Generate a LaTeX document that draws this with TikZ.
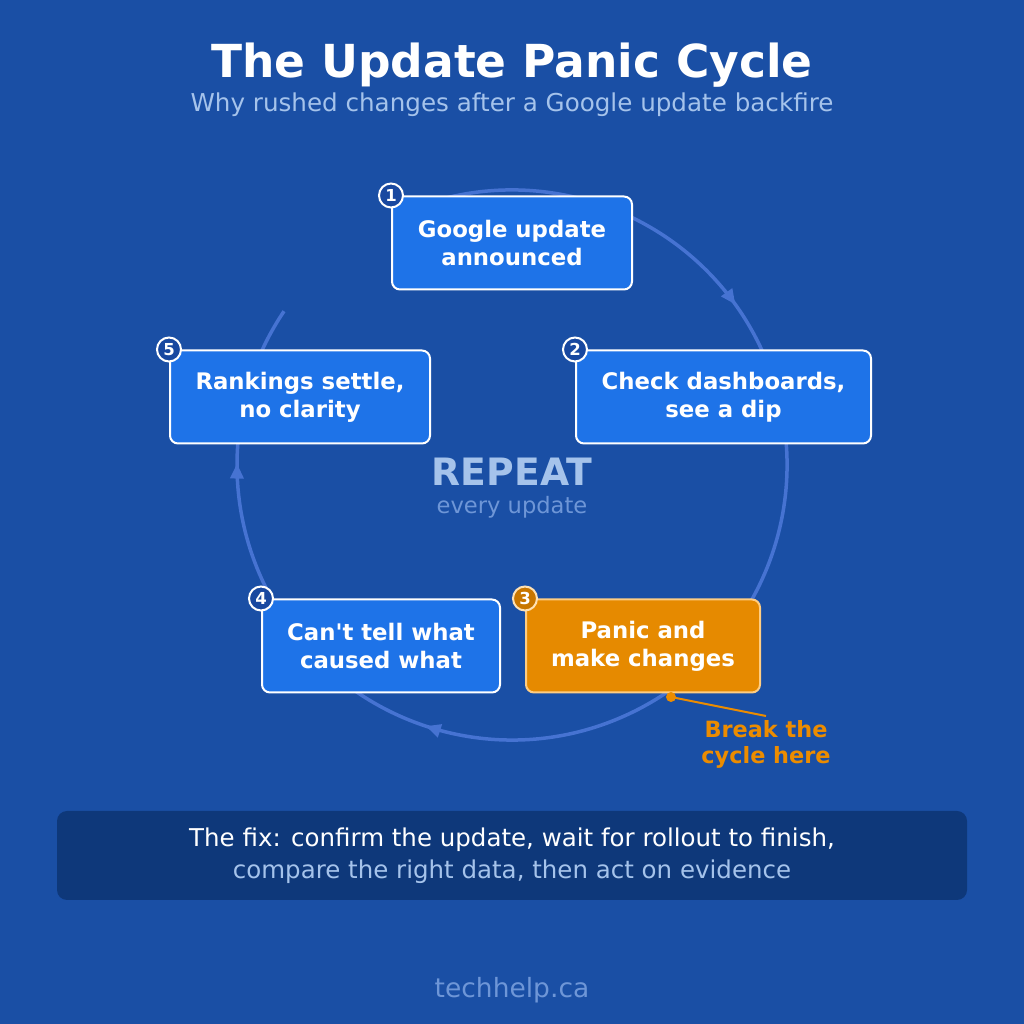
\documentclass[tikz,border=0pt]{standalone}
\usepackage{fontspec}
\setmainfont{DejaVu Sans}[Ligatures=TeXOff]
\usetikzlibrary{arrows.meta,decorations.markings}
\definecolor{bg}{RGB}{26,79,165}
\definecolor{boxblue}{RGB}{30,115,232}
\definecolor{numblue}{RGB}{24,72,160}
\definecolor{orangefill}{RGB}{230,138,0}
\definecolor{orangeedge}{RGB}{255,205,130}
\definecolor{orangenum}{RGB}{200,118,0}
\definecolor{orangetext}{RGB}{236,140,0}
\definecolor{paleblue}{RGB}{165,195,235}
\definecolor{midblue}{RGB}{110,150,215}
\definecolor{fixfill}{RGB}{14,56,122}
\definecolor{cyccol}{RGB}{70,115,210}
\tikzset{cyctip/.tip={Triangle[length=15pt,width=13pt]}}
\begin{document}
\begin{tikzpicture}[x=1pt,y=1pt,
  stepbox/.style={draw=white, line width=2pt, fill=boxblue, rounded corners=8pt,
    minimum height=93pt, text=white, align=center, inner sep=0pt,
    font=\fontsize{22.8}{28}\selectfont\bfseries},
  hotbox/.style={stepbox, fill=orangefill, draw=orangeedge},
  numdot/.style={circle, minimum size=24pt, inner sep=0pt, fill=numblue, draw=white,
    line width=2pt, text=white, font=\fontsize{16.5}{16.5}\selectfont\bfseries},
  hotdot/.style={numdot, fill=orangenum, draw=orangeedge!60!white},
  cyc/.style={draw=cyccol, line width=3.5pt}
]
\useasboundingbox[fill=bg] (0,0) rectangle (1024,1024);

% titles
\node[anchor=base, text=white, font=\fontsize{45.5}{54}\selectfont\bfseries] (title) at (512,946) {The Update Panic Cycle};
\node[anchor=base, text=paleblue, font=\fontsize{24.6}{28}\selectfont] (subtitle) at (512,912) {Why rushed changes after a Google update backfire};

% cycle
\coordinate (cc) at (512,559);
\draw[cyc, postaction={decorate}, decoration={markings,
   mark=at position 0.0192 with {\arrow[cyccol]{cyctip}},
   mark=at position 0.2387 with {\arrow[cyccol]{cyctip}},
   mark=at position 0.4582 with {\arrow[cyccol]{cyctip}},
   mark=at position 0.6777 with {\arrow[cyccol]{cyctip}},
   mark=at position 0.8973 with {\arrow[cyccol]{cyctip}}}]
  ([shift={(114:275)}]cc) arc[start angle=114, end angle=-214, radius=275];

% center label
\node[anchor=base, text=paleblue, font=\fontsize{37.7}{40}\selectfont\bfseries] (repeat) at (512,538) {REPEAT};
\node[anchor=base, text=midblue, font=\fontsize{22.6}{26}\selectfont] (every) at (512,510) {every update};

% steps
\node[stepbox, minimum width=240pt] (s1) at (512,781) {Google update\\announced};
\node[stepbox, minimum width=295pt] (s2) at (723.5,627) {Check dashboards,\\see a dip};
\node[hotbox,  minimum width=234pt] (s3) at (643,378) {Panic and\\make changes};
\node[stepbox, minimum width=238pt] (s4) at (381,378) {Can't tell what\\caused what};
\node[stepbox, minimum width=260pt] (s5) at (300,627) {Rankings settle,\\no clarity};

\node[numdot] (n1) at (s1.north west) {1};
\node[numdot] (n2) at (s2.north west) {2};
\node[hotdot] (n3) at (s3.north west) {3};
\node[numdot] (n4) at (s4.north west) {4};
\node[numdot] (n5) at (s5.north west) {5};

% break callout
\node[circle, fill=orangetext, minimum size=10pt, inner sep=0pt] (dot) at (671,327) {};
\coordinate (brkend) at (766,308);
\draw[orangetext, line width=2pt] (dot.center) -- (brkend);
\node[anchor=base, text=orangetext, font=\fontsize{22.4}{26}\selectfont\bfseries] (brk1) at (766,286) {Break the};
\node[anchor=base, text=orangetext, font=\fontsize{22.4}{26}\selectfont\bfseries] (brk2) at (766,260) {cycle here};

% fix box
\node[fill=fixfill, rounded corners=10pt, minimum width=910pt, minimum height=89pt, inner sep=0pt] (fix) at (512,168.5) {};
\node[anchor=base, text=white, font=\fontsize{24.5}{28}\selectfont] (fix1) at (512,177) {The fix: confirm the update, wait for rollout to finish,};
\node[anchor=base, text=paleblue, font=\fontsize{24.5}{28}\selectfont] (fix2) at (512,145) {compare the right data, then act on evidence};

% footer
\node[anchor=base, text=midblue, font=\fontsize{26.5}{30}\selectfont] (foot) at (512,27) {techhelp.ca};
\end{tikzpicture}
\end{document}
